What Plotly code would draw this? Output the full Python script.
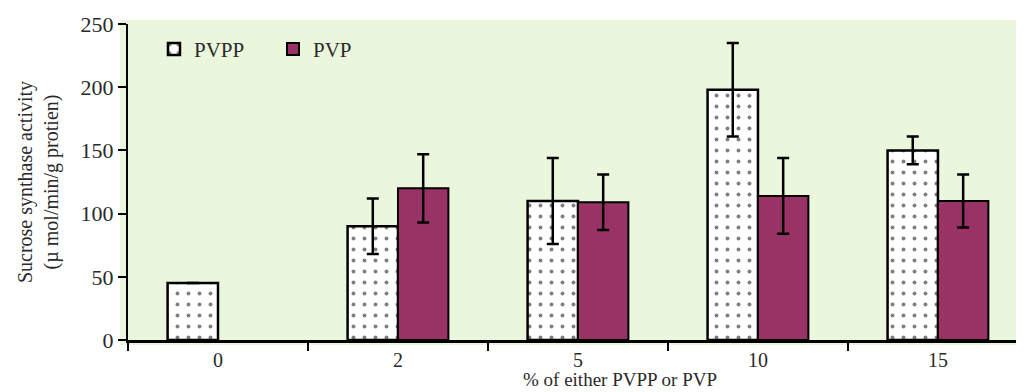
import plotly.graph_objects as go

categories = ["0", "2", "5", "10", "15"]
pvpp = [45, 90, 110, 198, 150]
pvpp_err = [0, 22, 34, 37, 11]
pvp = [None, 120, 109, 114, 110]
pvp_err = [0, 27, 22, 30, 21]
y_ticks = [0, 50, 100, 150, 200, 250]

serif = "Liberation Serif"
txt = "#2a2a2a"

fig = go.Figure()
fig.add_trace(go.Bar(
    x=categories, y=pvpp, name="PVPP",
    marker=dict(color="white", line=dict(color="black", width=2.5),
                pattern=dict(shape=".", fgcolor="black", bgcolor="white", size=11, solidity=0.1)),
    error_y=dict(type="data", array=pvpp_err, color="black", thickness=2.5, width=6, visible=True),
))
fig.add_trace(go.Bar(
    x=categories, y=pvp, name="PVP",
    marker=dict(color="#993366", line=dict(color="black", width=2)),
    error_y=dict(type="data", array=pvp_err, color="black", thickness=2.5, width=6, visible=True),
))

# the page has an 8px body margin, so the figure is 8px smaller and margins are shifted
fig.update_layout(
    width=1016, height=384,
    margin=dict(l=120, r=0, t=16, b=52),
    paper_bgcolor="white", plot_bgcolor="#EAF7DC",
    barmode="group", bargap=0.44, bargroupgap=0,
    font=dict(family=serif, size=20, color=txt),
    showlegend=True,
    legend=dict(orientation="h", x=0.029, y=0.985, xanchor="left", yanchor="top",
                bgcolor="rgba(0,0,0,0)", font=dict(family=serif, size=21, color=txt),
                itemwidth=30, entrywidth=74, traceorder="normal"),
    xaxis=dict(type="category", range=[-0.5, 4.478], tickson="boundaries",
               ticks="outside", ticklen=8, tickwidth=2, tickcolor="black",
               showline=True, linecolor="black", linewidth=2.5, showgrid=False,
               tickfont=dict(family=serif, size=20, color=txt)),
    yaxis=dict(range=[0, 250], tickvals=y_ticks, ticks="outside", ticklen=8, tickwidth=2,
               tickcolor="black", showline=True, linecolor="black", linewidth=2,
               showgrid=False, zeroline=False,
               tickfont=dict(family=serif, size=22, color=txt),
               title=dict(text="Sucrose synthase activity<br>(µ mol/min/g protien)",
                          font=dict(family=serif, size=20, color=txt), standoff=17)),
)

fig.add_shape(type="rect", xref="paper", yref="paper", layer="below",
              x0=-8 / 896, x1=1, y0=-5 / 316, y1=1 + 4 / 316,
              fillcolor="#EAF7DC", line=dict(width=0))

fig.add_annotation(text="% of either PVPP or PVP", xref="paper", yref="paper",
                   x=(620 - 128) / 896, y=-39.5 / 316, xanchor="center", yanchor="middle",
                   showarrow=False, font=dict(family=serif, size=19, color=txt))

fig.write_html("out.html")
